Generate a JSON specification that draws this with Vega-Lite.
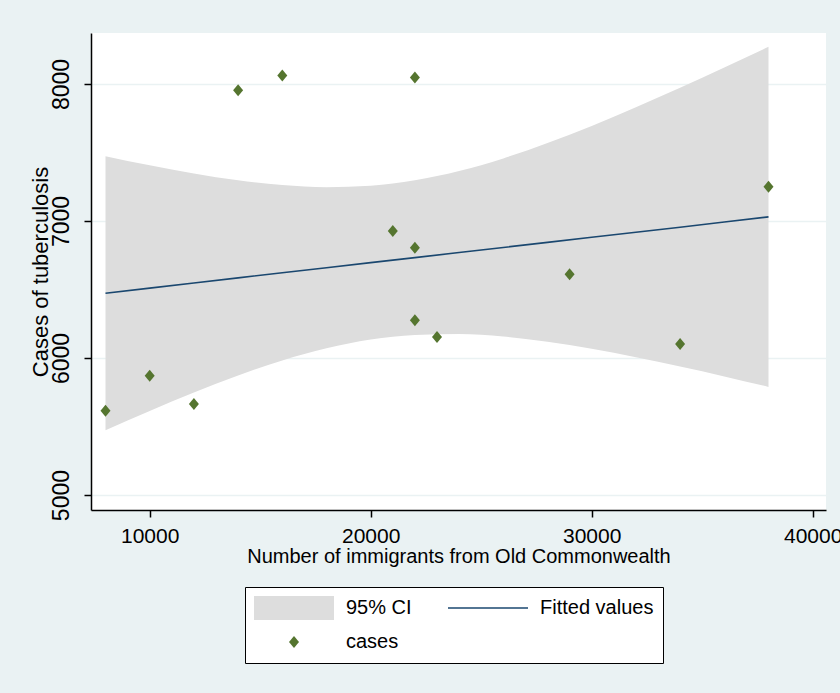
{
  "$schema": "https://vega.github.io/schema/vega-lite/v6.json",
  "width": 735,
  "height": 477,
  "autosize": {"type": "none"},
  "padding": {"left": 91, "top": 33, "right": 14, "bottom": 183},
  "background": "#eaf2f3",
  "datasets": {
    "ci": [
      {"x": 8000, "lo": 5473, "hi": 7473, "fit": 6473},
      {"x": 10000, "lo": 5614, "hi": 7406, "fit": 6510},
      {"x": 12000, "lo": 5749, "hi": 7347, "fit": 6548},
      {"x": 14000, "lo": 5873, "hi": 7297, "fit": 6585},
      {"x": 16000, "lo": 5982, "hi": 7262, "fit": 6622},
      {"x": 18000, "lo": 6071, "hi": 7247, "fit": 6659},
      {"x": 20000, "lo": 6135, "hi": 7257, "fit": 6696},
      {"x": 22000, "lo": 6169, "hi": 7297, "fit": 6733},
      {"x": 24000, "lo": 6175, "hi": 7365, "fit": 6770},
      {"x": 26000, "lo": 6157, "hi": 7457, "fit": 6807},
      {"x": 28000, "lo": 6119, "hi": 7569, "fit": 6844},
      {"x": 30000, "lo": 6068, "hi": 7694, "fit": 6881},
      {"x": 32000, "lo": 6006, "hi": 7830, "fit": 6918},
      {"x": 34000, "lo": 5938, "hi": 7972, "fit": 6955},
      {"x": 36000, "lo": 5866, "hi": 8120, "fit": 6993},
      {"x": 38000, "lo": 5789, "hi": 8271, "fit": 7030}
    ],
    "pts": [
      {"x": 8000, "cases": 5615},
      {"x": 10000, "cases": 5870},
      {"x": 12000, "cases": 5665},
      {"x": 14000, "cases": 7955},
      {"x": 16000, "cases": 8062},
      {"x": 21000, "cases": 6927},
      {"x": 22000, "cases": 8048},
      {"x": 22000, "cases": 6804},
      {"x": 22000, "cases": 6276},
      {"x": 23000, "cases": 6153},
      {"x": 29000, "cases": 6611},
      {"x": 34000, "cases": 6102},
      {"x": 38000, "cases": 7250}
    ]
  },
  "layer": [
    {
      "data": {"name": "ci"},
      "mark": {"type": "area", "opacity": 1, "interpolate": "monotone"},
      "encoding": {
        "x": {"field": "x", "type": "quantitative", "title": "Number of immigrants from Old Commonwealth",
              "scale": {"domain": [7344, 40602], "nice": false, "zero": false},
              "axis": {"values": [10000, 20000, 30000, 40000]}},
        "y": {"field": "lo", "type": "quantitative", "title": "Cases of tuberculosis",
              "scale": {"domain": [4891, 8372], "nice": false, "zero": false},
              "axis": {"values": [5000, 6000, 7000, 8000]}},
        "y2": {"field": "hi"},
        "color": {"datum": "95% CI", "type": "nominal",
                  "scale": {"domain": ["95% CI", "Fitted values", "cases"], "range": ["#dddddd", "#1a476f", "#55752f"]},
                  "legend": {"values": ["95% CI", "Fitted values", "cases"]}}
      }
    },
    {
      "data": {"name": "ci"},
      "mark": {"type": "line", "strokeWidth": 1.6},
      "encoding": {
        "x": {"field": "x", "type": "quantitative", "title": "Number of immigrants from Old Commonwealth"},
        "y": {"field": "fit", "type": "quantitative", "title": "Cases of tuberculosis"},
        "color": {"datum": "Fitted values", "type": "nominal",
                  "scale": {"domain": ["95% CI", "Fitted values", "cases"], "range": ["#dddddd", "#1a476f", "#55752f"]},
                  "legend": {"values": ["95% CI", "Fitted values", "cases"]}}
      }
    },
    {
      "data": {"name": "pts"},
      "mark": {"type": "point", "filled": true, "opacity": 1, "size": 6400},
      "encoding": {
        "x": {"field": "x", "type": "quantitative", "title": "Number of immigrants from Old Commonwealth"},
        "y": {"field": "cases", "type": "quantitative", "title": "Cases of tuberculosis"},
        "color": {"datum": "cases", "type": "nominal",
                  "scale": {"domain": ["95% CI", "Fitted values", "cases"], "range": ["#dddddd", "#1a476f", "#55752f"]},
                  "legend": {"values": ["95% CI", "Fitted values", "cases"]}},
        "shape": {"datum": "cases", "type": "nominal",
                  "scale": {"domain": ["95% CI", "Fitted values", "cases"],
                            "range": ["M-1,-0.3H1V0.3H-1Z", "M-1,-0.02H1V0.02H-1Z", "M0,-0.15L0.125,0L0,0.15L-0.125,0Z"]},
                  "legend": {"values": ["95% CI", "Fitted values", "cases"]}}
      }
    }
  ],
  "config": {
    "view": {"fill": "white", "stroke": null},
    "axisX": {
      "format": "d", "grid": false,
      "domainColor": "black", "domainWidth": 1.5, "tickColor": "black", "tickWidth": 1.5, "tickSize": 7,
      "labelFont": "Liberation Sans", "labelFontSize": 21, "labelColor": "black", "labelPadding": 8,
      "labelFlush": false, "labelOverlap": false,
      "titleFont": "Liberation Sans", "titleFontSize": 20, "titleFontWeight": "normal", "titleColor": "black", "titlePadding": 0
    },
    "axisY": {
      "format": "d", "grid": true, "gridColor": "#eaf2f3", "gridWidth": 1.5,
      "domainColor": "black", "domainWidth": 1.5, "tickColor": "black", "tickWidth": 1.5, "tickSize": 7,
      "labelFont": "Liberation Sans", "labelFontSize": 23, "labelColor": "black", "labelPadding": 16,
      "labelAngle": -90, "labelAlign": "center", "labelBaseline": "alphabetic", "labelFlush": false, "labelOverlap": false,
      "titleFont": "Liberation Sans", "titleFontSize": 22, "titleFontWeight": "normal", "titleColor": "black", "titlePadding": -2
    },
    "legend": {
      "orient": "none", "legendX": 154, "legendY": 554, "title": null, "columns": 2, "direction": "horizontal",
      "symbolSize": 6400, "clipHeight": 24, "symbolStrokeWidth": 0, "symbolOpacity": 1, "labelOffset": 12, "columnPadding": 36, "rowPadding": 10,
      "padding": 9, "strokeColor": "black", "fillColor": "white",
      "labelFont": "Liberation Sans", "labelFontSize": 20, "labelColor": "black", "labelLimit": 300
    }
  }
}
